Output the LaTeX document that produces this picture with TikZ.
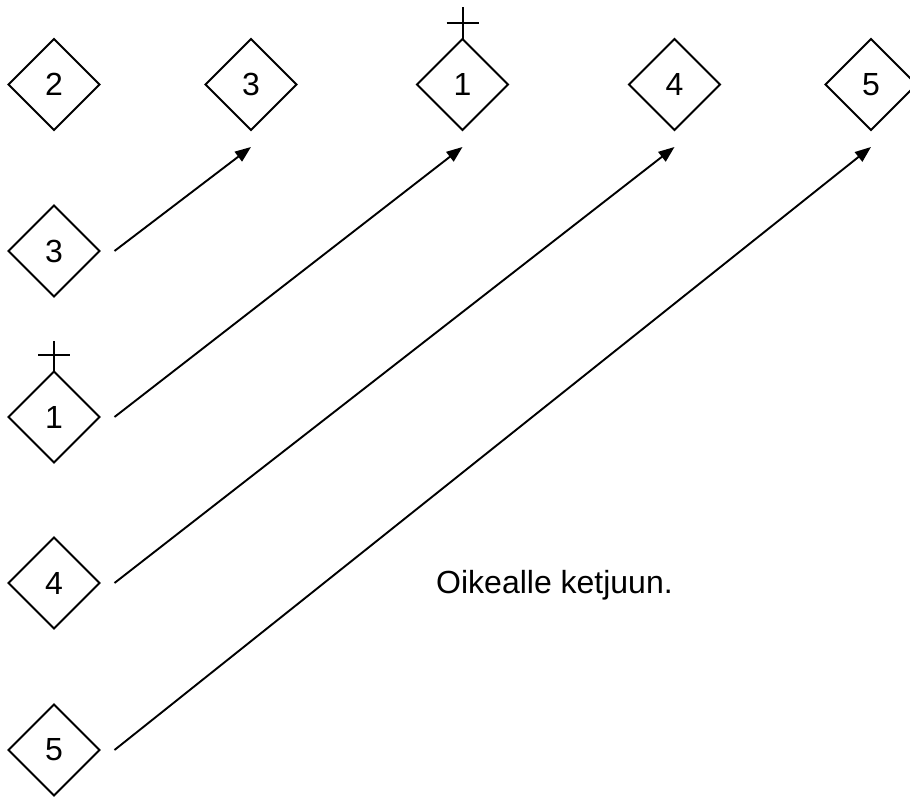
\documentclass[tikz,border=0pt]{standalone}
\usepackage{fontspec}
\setmainfont{Liberation Sans}
\usetikzlibrary{shapes.geometric,arrows.meta}
\begin{document}
\begin{tikzpicture}[x=1pt,y=1pt,
  dia/.style={draw,shape=diamond,aspect=1,minimum width=91pt,minimum height=91pt,inner sep=0pt,outer sep=0pt,line width=2pt,font=\fontsize{32}{38}\selectfont},
  conn/.style={line width=1.9pt,-{Triangle[length=16pt,width=12pt]}},
  crossline/.style={line width=2pt}]
\useasboundingbox (0,0) rectangle (910,796);
% top row
\node[dia] (t2) at (54,711.5) {2};
\node[dia] (t3) at (251,711.5) {3};
\node[dia] (t1) at (462.5,711.5) {1};
\node[dia] (t4) at (674.5,711.5) {4};
\node[dia] (t5) at (871,711.5) {5};
% left column
\node[dia] (l3) at (54,545) {3};
\node[dia] (l1) at (54,379) {1};
\node[dia] (l4) at (54,213) {4};
\node[dia] (l5) at (54,46) {5};
% crosses
\draw[crossline] (t1.north) -- ++(0,32);
\draw[crossline] ([shift={(-16,16)}]t1.north) -- ++(32,0);
\draw[crossline] (l1.north) -- ++(0,30);
\draw[crossline] ([shift={(-16,16)}]l1.north) -- ++(32,0);
% arrows
\draw[conn] ([xshift=15pt]l3.east) -- ([yshift=-17pt]t3.south);
\draw[conn] ([xshift=15pt]l1.east) -- ([yshift=-17pt]t1.south);
\draw[conn] ([xshift=15pt]l4.east) -- ([yshift=-17pt]t4.south);
\draw[conn] ([xshift=15pt]l5.east) -- ([yshift=-17pt]t5.south);
% text
\node[anchor=base,font=\fontsize{32}{38}\selectfont,inner sep=0pt] (txt) at (554.5,203) {Oikealle ketjuun.};
\end{tikzpicture}
\end{document}
